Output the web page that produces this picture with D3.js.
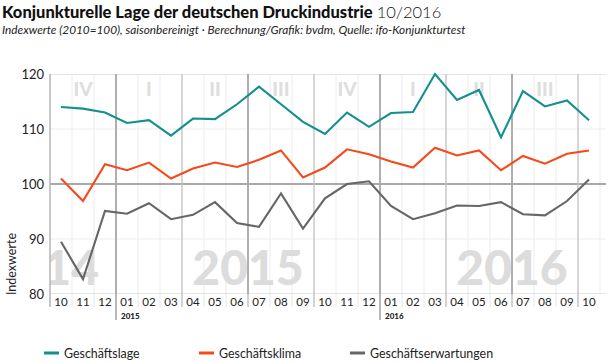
<!DOCTYPE html>
<html>
<head>
<meta charset="utf-8">
<script src="https://cdn.jsdelivr.net/npm/d3@7"></script>
<style>
  body { margin: 0; background: #fff; font-family: Lato, "Noto Sans", sans-serif; }
  svg { display: block; }
</style>
</head>
<body>
<div id="chart"></div>
<script>
// ── Data ───────────────────────────────────────────────────────────────────
const monthLabels = ["10","11","12","01","02","03","04","05","06","07","08","09",
                     "10","11","12","01","02","03","04","05","06","07","08","09","10"];
const quarterLabels = ["IV","I","II","III","IV","I","II","III"];
const yearBreaks = [{ idx: 3, label: "2015" }, { idx: 15, label: "2016" }];
const bigYears = ["14", "2015", "2016"];
const yTicks = [80, 90, 100, 110, 120];

const lage   = [114.0,113.7,113.0,111.1,111.6,108.8,111.9,111.8,114.5,117.7,114.5,111.3,
                109.1,113.0,110.4,112.9,113.1,120.0,115.3,117.1,108.5,116.9,114.1,115.2,111.6];
const klima  = [101.0,96.9,103.6,102.5,103.9,101.0,102.8,103.9,103.1,104.4,106.1,101.2,
                103.0,106.3,105.4,104.1,103.0,106.6,105.2,106.1,102.5,105.1,103.7,105.5,106.1];
const erwart = [89.5,82.7,95.1,94.6,96.5,93.6,94.4,96.7,92.9,92.2,98.3,91.9,
                97.4,100.0,100.5,96.0,93.6,94.7,96.1,96.0,96.7,94.5,94.3,96.9,100.8];

const series = [
  { name: "Geschäftslage",        values: lage,   color: "#12908f" },
  { name: "Geschäftsklima",       values: klima,  color: "#f5491c" },
  { name: "Geschäftserwartungen", values: erwart, color: "#666666" },
];

// ── Dimensions ─────────────────────────────────────────────────────────────
const W = 610, H = 362;
const plot = { left: 50, right: 600, top: 74, bottom: 294, edge: 606 };

const svg = d3.select("#chart").append("svg")
  .attr("width", W).attr("height", H);

const x = d3.scaleBand()
  .domain(d3.range(monthLabels.length))
  .range([plot.left, plot.right])
  .padding(0);
const bw = x.bandwidth();
const xc = i => x(i) + bw / 2;

const y = d3.scaleLinear().domain([80, 120]).range([plot.bottom, plot.top]);

// ── Title ──────────────────────────────────────────────────────────────────
const title = svg.append("text")
  .attr("x", 2).attr("y", 18)
  .style("font-size", "16.5px").style("fill", "#111");
title.append("tspan").style("font-weight", 900)
  .text("Konjunkturelle Lage der deutschen Druckindustrie ");
title.append("tspan").style("font-weight", 300).text("10/2016");

svg.append("text")
  .attr("x", 2).attr("y", 34)
  .style("font-size", "11.8px").style("font-style", "italic").style("fill", "#222")
  .text("Indexwerte (2010=100), saisonbereinigt \u00b7  Berechnung/Grafik: bvdm, Quelle: ifo-Konjunkturtest");

// ── Background: clip, year labels, quarter labels ─────────────────────────
svg.append("clipPath").attr("id", "clip")
  .append("rect")
  .attr("x", plot.left).attr("y", plot.top)
  .attr("width", plot.edge - plot.left).attr("height", plot.bottom - plot.top);

const bg = svg.append("g").attr("clip-path", "url(#clip)");

bg.selectAll(".month-grid")
  .data(d3.range(1, monthLabels.length + 1))
  .join("line")
  .attr("x1", i => x(i) ?? plot.right).attr("x2", i => x(i) ?? plot.right)
  .attr("y1", plot.top).attr("y2", plot.bottom)
  .attr("stroke", "#ececec").attr("stroke-width", 1);

bg.selectAll(".h-grid")
  .data(yTicks)
  .join("line")
  .attr("x1", plot.left).attr("x2", plot.edge)
  .attr("y1", d => y(d)).attr("y2", d => y(d))
  .attr("stroke", d => d === 100 ? "#8c8c8c" : (d === 80 || d === 120 ? "#cccccc" : "#ededed"))
  .attr("stroke-width", d => d === 100 ? 1.6 : 1.2);

// big year labels (2014 only shows its last two digits)
bg.selectAll(".big-year")
  .data(bigYears)
  .join("text")
  .attr("x", (d, i) => i === 0 ? x(yearBreaks[0].idx) - 17 : x(yearBreaks[i - 1].idx) + 6 * bw)
  .attr("y", 285)
  .attr("text-anchor", (d, i) => i === 0 ? "end" : "middle")
  .style("font-size", "48px").style("font-weight", 900)
  .style("fill", "#dcdcdc")
  .text(d => d);

// quarter labels
bg.selectAll(".quarter")
  .data(quarterLabels)
  .join("text")
  .attr("x", (d, i) => x(i * 3) + 1.5 * bw)
  .attr("y", 96)
  .attr("text-anchor", "middle")
  .style("font-size", "19px").style("font-weight", 900)
  .style("fill", "#dedede")
  .text(d => d);

// quarter / half-year lines
const qIdx = d3.range(3, monthLabels.length, 3);
bg.selectAll(".q-grid")
  .data(qIdx)
  .join("line")
  .attr("x1", i => x(i)).attr("x2", i => x(i))
  .attr("y1", plot.top).attr("y2", plot.bottom)
  .attr("stroke", i => i % 6 === 3 ? "#a8a8a8" : "#c4c4c4")
  .attr("stroke-width", i => i % 6 === 3 ? 1.8 : 1.3);

// left axis line
svg.append("line")
  .attr("x1", plot.left).attr("x2", plot.left)
  .attr("y1", plot.top).attr("y2", plot.bottom + 13)
  .attr("stroke", "#b5b5b5").attr("stroke-width", 1.5);

// ── X axis ticks and labels ───────────────────────────────────────────────
svg.selectAll(".x-tick")
  .data(d3.range(1, monthLabels.length))
  .join("line")
  .attr("x1", i => x(i)).attr("x2", i => x(i))
  .attr("y1", plot.bottom)
  .attr("y2", i => yearBreaks.some(b => b.idx === i) ? 320 : plot.bottom + 13)
  .attr("stroke", i => yearBreaks.some(b => b.idx === i) ? "#a0a0a0" : (i % 3 === 0 ? "#c4c4c4" : "#e6e6e6"))
  .attr("stroke-width", i => i % 3 === 0 ? 1.5 : 1);

svg.selectAll(".x-label")
  .data(monthLabels)
  .join("text")
  .attr("x", (d, i) => xc(i))
  .attr("y", 306)
  .attr("text-anchor", "middle")
  .style("font-size", "11.5px").style("fill", "#222")
  .text(d => d);

svg.selectAll(".year-label")
  .data(yearBreaks)
  .join("text")
  .attr("x", d => x(d.idx) + 5)
  .attr("y", 319)
  .style("font-size", "8px").style("font-weight", 900).style("fill", "#222")
  .text(d => d.label);

// ── Y axis ────────────────────────────────────────────────────────────────
svg.selectAll(".y-label")
  .data(yTicks)
  .join("text")
  .attr("x", 44)
  .attr("y", d => y(d) + 4.5)
  .attr("text-anchor", "end")
  .style("font-size", "13px").style("fill", "#222")
  .text(d => d);

svg.append("text")
  .attr("transform", "translate(16,264) rotate(-90)")
  .attr("text-anchor", "middle")
  .style("font-size", "12.5px").style("fill", "#222")
  .text("Indexwerte");

// ── Lines ─────────────────────────────────────────────────────────────────
const line = d3.line().x((d, i) => xc(i)).y(d => y(d));

svg.selectAll(".series")
  .data(series)
  .join("path")
  .attr("d", d => line(d.values))
  .attr("fill", "none")
  .attr("stroke", d => d.color)
  .attr("stroke-width", 2.1)
  .attr("stroke-linejoin", "miter");

// ── Legend ────────────────────────────────────────────────────────────────
const legendX = [44, 199, 350];
const legend = svg.selectAll(".legend")
  .data(series)
  .join("g")
  .attr("transform", (d, i) => `translate(${legendX[i]},353)`);

legend.append("line")
  .attr("x1", 0).attr("x2", 15)
  .attr("stroke", d => d.color).attr("stroke-width", 3);

legend.append("text")
  .attr("x", 20).attr("y", 4.5)
  .style("font-size", "12.4px").style("fill", "#222")
  .text(d => d.name);
</script>
</body>
</html>
